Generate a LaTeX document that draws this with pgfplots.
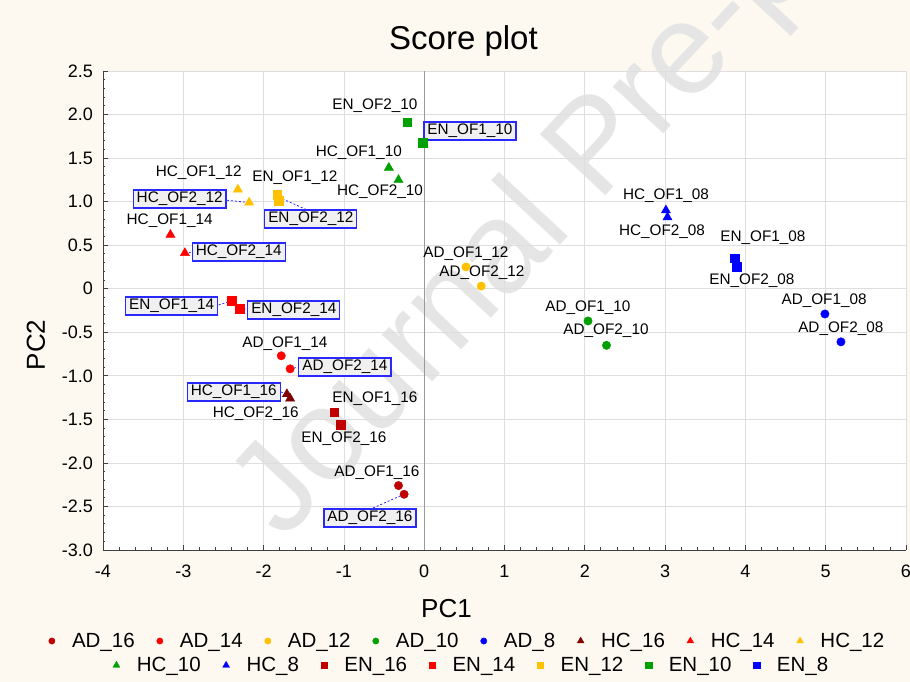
\documentclass[border=0pt]{standalone}
\usepackage{fontspec}
\setmainfont{Liberation Sans}
\usepackage{pgfplots}
\pgfplotsset{compat=1.18}
\usetikzlibrary{backgrounds}

\definecolor{bgcream}{RGB}{253,249,240}
\definecolor{cDark}{RGB}{190,0,0}
\definecolor{cMaroon}{RGB}{128,0,0}
\definecolor{cEN16}{RGB}{192,0,0}
\definecolor{cRed}{RGB}{255,0,0}
\definecolor{cOrange}{RGB}{255,192,0}
\definecolor{cGreen}{RGB}{0,160,0}
\definecolor{cBlue}{RGB}{0,0,255}
\definecolor{boxblue}{RGB}{40,40,255}
\definecolor{boxfill}{RGB}{240,240,240}

\tikzset{
  lab/.style={font=\fontsize{15.3}{18}\selectfont, inner sep=0pt},
  blab/.style={lab, draw=boxblue, line width=1.3pt, fill=boxfill, inner xsep=3.5pt, inner ysep=2.2pt},
  lead/.style={boxblue, dash pattern=on 2pt off 2pt, line width=0.8pt},
}
\pgfplotsset{
  mylegend/.style={
    legend style={draw=none, fill=none, inner sep=0pt, outer sep=0pt,
      font=\fontsize{20.5}{24}\selectfont,
      nodes={inner sep=0pt},
      /tikz/every odd column/.style={column sep=17pt},
      /tikz/every even column/.style={column sep=22pt}},
    legend cell align=left,
    legend image code/.code={\draw[##1, mark options={scale=0.75}] plot coordinates {(0pt,0pt)};},
  },
  ci/.style={only marks, mark=*, mark size=4.2pt},
  tr/.style={only marks, mark=triangle*, mark size=5.3pt},
  sq/.style={only marks, mark=square*, mark size=4.3pt},
}

\begin{document}
\begin{tikzpicture}
\begin{axis}[
  scale only axis, width=803pt, height=479pt,
  xmin=-4, xmax=6, ymin=-3, ymax=2.5,
  xtick={-4,-3,...,6},
  xticklabels={-4,-3,-2,-1,0,1,2,3,4,5,6},
  ytick={-3,-2.5,...,2.5},
  yticklabels={-3.0,-2.5,-2.0,-1.5,-1.0,-0.5,0,0.5,1.0,1.5,2.0,2.5},
  minor x tick num=4, minor y tick num=4,
  tick align=inside, major tick length=5pt, minor tick length=2.5pt,
  axis x line*=bottom, axis y line*=left,
  axis line style={-, draw=black!75, line width=0.9pt},
  tick style={black!75, line width=0.8pt},
  grid=major, major grid style={draw=black!13, line width=0.7pt},
  ticklabel style={font=\fontsize{18}{20}\selectfont},
  xticklabel style={inner sep=0pt, anchor=north, yshift=-15pt},
  yticklabel style={inner sep=0pt, anchor=east, xshift=-10pt},
  clip=false,
  mylegend,
  legend columns=8,
  legend style={at={(0.4527,-0.190)}, anchor=center},
]
\draw[black!40, line width=0.8pt] (axis cs:0,-3) -- (axis cs:0,2.5);
% leader lines
\draw[lead] (axis cs:-2.457,1.016) -- (axis cs:-2.18,0.99);
\draw[lead] (axis cs:-1.81,1.05) -- (axis cs:-1.449,0.901);
\draw[lead] (axis cs:-2.98,0.41) -- (axis cs:-2.881,0.421);
\draw[lead] (axis cs:-2.560,-0.186) -- (axis cs:-2.40,-0.14);
\draw[lead] (axis cs:-2.30,-0.23) -- (axis cs:-2.197,-0.234);
\draw[lead] (axis cs:-1.67,-0.92) -- (axis cs:-1.561,-0.899);
\draw[lead] (axis cs:-1.785,-1.185) -- (axis cs:-1.71,-1.21);
\draw[lead] (axis cs:-0.25,-2.36) -- (axis cs:-0.639,-2.518);

\addplot[ci, color=cDark] coordinates {(-0.32,-2.26) (-0.25,-2.36)};
\addlegendentry{AD\_16}
\addplot[ci, color=cRed] coordinates {(-1.78,-0.77) (-1.67,-0.92)};
\addlegendentry{AD\_14}
\addplot[ci, color=cOrange] coordinates {(0.52,0.25) (0.71,0.03)};
\addlegendentry{AD\_12}
\addplot[ci, color=cGreen] coordinates {(2.04,-0.37) (2.27,-0.65)};
\addlegendentry{AD\_10}
\addplot[ci, color=cBlue] coordinates {(4.99,-0.29) (5.19,-0.61)};
\addlegendentry{AD\_8}
\addplot[tr, color=cMaroon] coordinates {(-1.71,-1.21) (-1.67,-1.26)};
\addlegendentry{HC\_16}
\addplot[tr, color=cRed] coordinates {(-3.16,0.62) (-2.98,0.41)};
\addlegendentry{HC\_14}
\addplot[tr, color=cOrange] coordinates {(-2.32,1.14) (-2.18,0.99)};
\addlegendentry{HC\_12}
\addplot[tr, color=cGreen] coordinates {(-0.44,1.39) (-0.32,1.25)};
\addplot[tr, color=cBlue] coordinates {(3.01,0.90) (3.03,0.82)};
\addplot[sq, color=cEN16] coordinates {(-1.12,-1.42) (-1.04,-1.56)};
\addplot[sq, color=cRed] coordinates {(-2.40,-0.14) (-2.30,-0.23)};
\addplot[sq, color=cOrange] coordinates {(-1.83,1.08) (-1.81,1.01)};
\addplot[sq, color=cGreen] coordinates {(-0.02,1.68) (-0.21,1.91)};
\addplot[sq, color=cBlue] coordinates {(3.87,0.35) (3.89,0.25)};

% point labels
\node[lab] at (axis cs:-0.614,2.098) {EN\_OF2\_10};
\node[blab] at (axis cs:0.569,1.811) {EN\_OF1\_10};
\node[lab] at (axis cs:-0.814,1.559) {HC\_OF1\_10};
\node[lab] at (axis cs:-0.551,1.110) {HC\_OF2\_10};
\node[lab] at (axis cs:-2.807,1.328) {HC\_OF1\_12};
\node[lab] at (axis cs:-1.611,1.271) {EN\_OF1\_12};
\node[blab] at (axis cs:-3.045,1.030) {HC\_OF2\_12};
\node[blab] at (axis cs:-1.412,0.800) {EN\_OF2\_12};
\node[lab] at (axis cs:-3.170,0.777) {HC\_OF1\_14};
\node[blab] at (axis cs:-2.310,0.421) {HC\_OF2\_14};
\node[blab] at (axis cs:-3.145,-0.199) {EN\_OF1\_14};
\node[blab] at (axis cs:-1.624,-0.244) {EN\_OF2\_14};
\node[lab] at (axis cs:-1.735,-0.634) {AD\_OF1\_14};
\node[blab] at (axis cs:-0.988,-0.899) {AD\_OF2\_14};
\node[blab] at (axis cs:-2.372,-1.186) {HC\_OF1\_16};
\node[lab] at (axis cs:-2.097,-1.439) {HC\_OF2\_16};
\node[lab] at (axis cs:-0.614,-1.267) {EN\_OF1\_16};
\node[lab] at (axis cs:-1.000,-1.726) {EN\_OF2\_16};
\node[lab] at (axis cs:-0.589,-2.116) {AD\_OF1\_16};
\node[blab] at (axis cs:-0.676,-2.633) {AD\_OF2\_16};
\node[lab] at (axis cs:0.519,0.398) {AD\_OF1\_12};
\node[lab] at (axis cs:0.719,0.180) {AD\_OF2\_12};
\node[lab] at (axis cs:2.039,-0.222) {AD\_OF1\_10};
\node[lab] at (axis cs:2.264,-0.486) {AD\_OF2\_10};
\node[lab] at (axis cs:3.011,1.064) {HC\_OF1\_08};
\node[lab] at (axis cs:2.961,0.651) {HC\_OF2\_08};
\node[lab] at (axis cs:4.219,0.582) {EN\_OF1\_08};
\node[lab] at (axis cs:4.082,0.088) {EN\_OF2\_08};
\node[lab] at (axis cs:4.980,-0.142) {AD\_OF1\_08};
\node[lab] at (axis cs:5.188,-0.463) {AD\_OF2\_08};
\end{axis}

% second legend row
\begin{axis}[
  scale only axis, width=803pt, height=479pt,
  hide axis, xmin=0, xmax=1, ymin=0, ymax=1,
  mylegend,
  legend columns=7,
  legend style={at={(0.4578,-0.2407)}, anchor=center},
]
\addlegendimage{tr, color=cGreen}
\addlegendentry{HC\_10}
\addlegendimage{tr, color=cBlue}
\addlegendentry{HC\_8}
\addlegendimage{sq, color=cEN16}
\addlegendentry{EN\_16}
\addlegendimage{sq, color=cRed}
\addlegendentry{EN\_14}
\addlegendimage{sq, color=cOrange}
\addlegendentry{EN\_12}
\addlegendimage{sq, color=cGreen}
\addlegendentry{EN\_10}
\addlegendimage{sq, color=cBlue}
\addlegendentry{EN\_8}
\end{axis}

\node[font=\fontsize{33}{36}\selectfont, anchor=base] at (360.5pt,500pt) {Score plot};
\node[font=\fontsize{26}{28}\selectfont, anchor=base] at (343.5pt,-68pt) {PC1};
\node[font=\fontsize{26}{28}\selectfont, anchor=base, rotate=90] at (-58pt,205pt) {PC2};

\pgfresetboundingbox
\begin{scope}[on background layer]
  \fill[bgcream] (-103pt,-132pt) rectangle (807pt,550pt);
  \fill[white] (0pt,0pt) rectangle (803pt,479pt);
  \begin{pgfinterruptboundingbox}
  \begin{scope}
    \clip (-103pt,-132pt) rectangle (807pt,550pt);
    \node[rotate=47, anchor=base west, inner sep=0pt, text=black!10,
          font=\fontsize{130}{130}\selectfont] at (180pt,8pt) {Journal Pre-proof};
  \end{scope}
  \end{pgfinterruptboundingbox}
\end{scope}
\end{tikzpicture}
\end{document}
